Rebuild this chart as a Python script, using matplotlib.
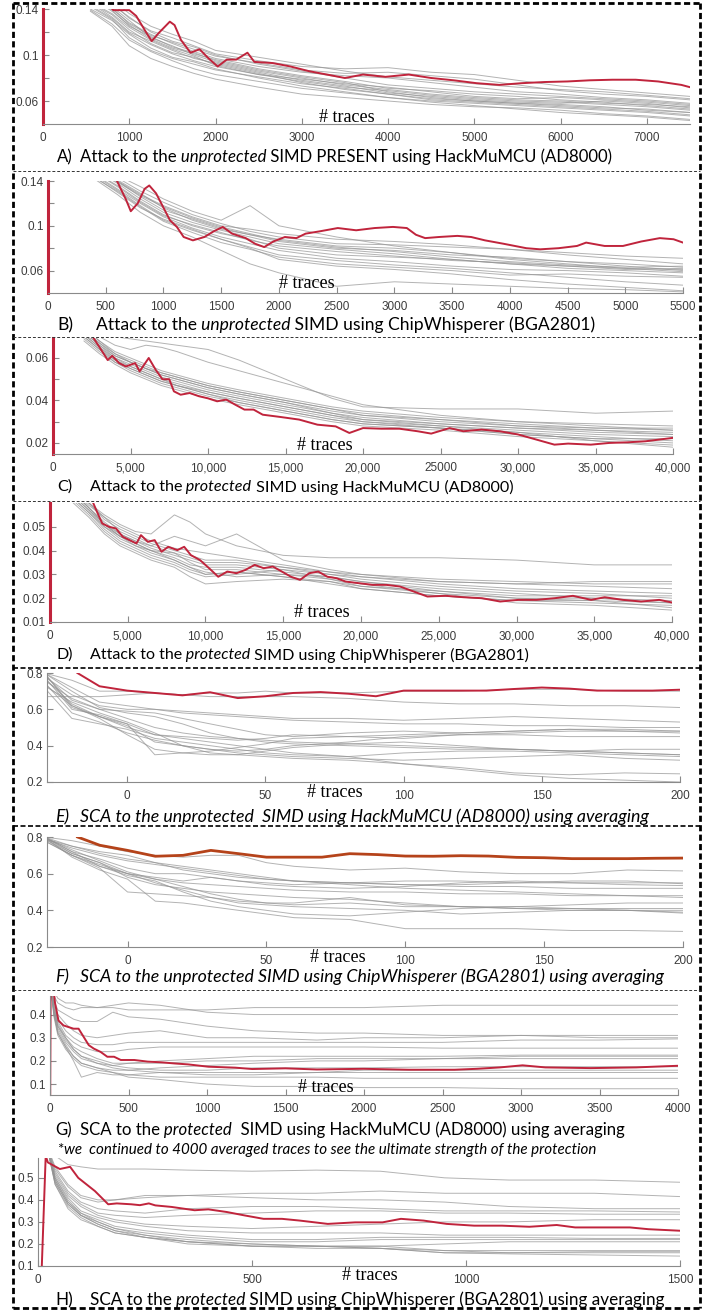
import matplotlib
matplotlib.use("Agg")
import matplotlib.pyplot as plt
from matplotlib.lines import Line2D

plt.rcParams["font.family"] = "Liberation Sans"

# ---------------- data ----------------
# A) unprotected SIMD PRESENT, HackMuMCU
x_a = [550, 800, 1000, 1250, 1500, 1750, 2000, 2500, 3000, 3500, 4000, 4500, 5000, 5500, 6000, 6500, 7000, 7500]
gray_a = [
    [0.150, 0.140, 0.128, 0.118, 0.110, 0.103, 0.097, 0.090, 0.085, 0.082, 0.080, 0.076, 0.072, 0.068, 0.066, 0.063, 0.061, 0.058],
    [0.145, 0.135, 0.122, 0.110, 0.102, 0.098, 0.092, 0.084, 0.076, 0.070, 0.066, 0.062, 0.060, 0.058, 0.057, 0.055, 0.052, 0.050],
    [0.150, 0.145, 0.132, 0.121, 0.115, 0.108, 0.101, 0.095, 0.090, 0.088, 0.089, 0.085, 0.083, 0.078, 0.073, 0.070, 0.067, 0.064],
    [0.140, 0.130, 0.118, 0.106, 0.098, 0.094, 0.088, 0.080, 0.073, 0.068, 0.063, 0.060, 0.058, 0.056, 0.054, 0.052, 0.050, 0.047],
    [0.150, 0.142, 0.130, 0.115, 0.108, 0.100, 0.094, 0.086, 0.080, 0.074, 0.070, 0.066, 0.063, 0.061, 0.060, 0.058, 0.057, 0.055],
    [0.138, 0.125, 0.108, 0.097, 0.090, 0.084, 0.079, 0.072, 0.066, 0.063, 0.060, 0.057, 0.055, 0.054, 0.052, 0.049, 0.047, 0.044],
    [0.150, 0.148, 0.136, 0.125, 0.118, 0.112, 0.104, 0.098, 0.092, 0.086, 0.081, 0.078, 0.075, 0.072, 0.070, 0.068, 0.065, 0.062],
    [0.145, 0.133, 0.120, 0.112, 0.104, 0.097, 0.093, 0.085, 0.078, 0.073, 0.067, 0.064, 0.061, 0.059, 0.058, 0.060, 0.058, 0.054],
    [0.150, 0.138, 0.126, 0.114, 0.106, 0.101, 0.096, 0.088, 0.082, 0.077, 0.071, 0.069, 0.066, 0.064, 0.061, 0.059, 0.056, 0.053],
    [0.142, 0.131, 0.115, 0.104, 0.097, 0.092, 0.087, 0.081, 0.075, 0.071, 0.066, 0.061, 0.059, 0.057, 0.055, 0.053, 0.051, 0.048],
    [0.150, 0.141, 0.127, 0.117, 0.111, 0.105, 0.099, 0.093, 0.087, 0.084, 0.085, 0.082, 0.079, 0.074, 0.069, 0.066, 0.064, 0.061],
    [0.146, 0.136, 0.124, 0.113, 0.105, 0.099, 0.091, 0.083, 0.077, 0.072, 0.069, 0.065, 0.062, 0.060, 0.059, 0.057, 0.055, 0.052],
    [0.139, 0.127, 0.113, 0.103, 0.095, 0.088, 0.083, 0.077, 0.071, 0.067, 0.063, 0.059, 0.056, 0.053, 0.050, 0.048, 0.046, 0.043],
    [0.150, 0.144, 0.133, 0.120, 0.112, 0.107, 0.100, 0.092, 0.086, 0.080, 0.074, 0.071, 0.068, 0.066, 0.064, 0.062, 0.060, 0.057],
    [0.143, 0.132, 0.119, 0.109, 0.101, 0.095, 0.090, 0.083, 0.079, 0.075, 0.072, 0.068, 0.064, 0.062, 0.063, 0.061, 0.059, 0.056],
    [0.150, 0.139, 0.125, 0.116, 0.107, 0.102, 0.095, 0.087, 0.081, 0.076, 0.068, 0.063, 0.060, 0.058, 0.056, 0.054, 0.053, 0.050],
]
red_a_x = [780, 815, 1000, 1080, 1185, 1260, 1340, 1470, 1525, 1600, 1710, 1815, 1920, 2025, 2130, 2240, 2370, 2450, 2660, 2870,
           3080, 3290, 3500, 3710, 3970, 4240, 4500, 4760, 5025, 5290, 5550, 5815, 6080, 6340, 6600, 6870, 7130, 7400, 7500]
red_a_y = [0.142, 0.139, 0.139, 0.134, 0.121, 0.112, 0.119, 0.129, 0.126, 0.113, 0.102, 0.105, 0.097, 0.090, 0.096, 0.096, 0.102, 0.094, 0.093, 0.090,
           0.086, 0.083, 0.080, 0.083, 0.081, 0.083, 0.080, 0.078, 0.0755, 0.074, 0.0755, 0.0765, 0.077, 0.078, 0.0785, 0.0785, 0.077, 0.074, 0.072]

# B) unprotected SIMD, ChipWhisperer
x_b = [400, 600, 800, 1000, 1250, 1500, 1750, 2000, 2500, 3000, 3500, 4000, 4500, 5000, 5500]
gray_b = [
    [0.150, 0.140, 0.128, 0.118, 0.108, 0.100, 0.097, 0.093, 0.088, 0.086, 0.083, 0.079, 0.074, 0.070, 0.066],
    [0.145, 0.132, 0.118, 0.105, 0.096, 0.088, 0.080, 0.070, 0.064, 0.061, 0.057, 0.052, 0.048, 0.045, 0.042],
    [0.150, 0.145, 0.135, 0.124, 0.113, 0.105, 0.118, 0.100, 0.090, 0.082, 0.076, 0.071, 0.068, 0.064, 0.060],
    [0.142, 0.128, 0.112, 0.100, 0.090, 0.078, 0.066, 0.058, 0.046, 0.050, 0.048, 0.046, 0.044, 0.043, 0.041],
    [0.150, 0.140, 0.126, 0.114, 0.106, 0.098, 0.092, 0.086, 0.080, 0.078, 0.074, 0.072, 0.068, 0.066, 0.063],
    [0.148, 0.136, 0.122, 0.110, 0.100, 0.093, 0.088, 0.080, 0.074, 0.072, 0.070, 0.066, 0.062, 0.060, 0.058],
    [0.150, 0.143, 0.131, 0.121, 0.110, 0.102, 0.095, 0.090, 0.084, 0.083, 0.081, 0.079, 0.076, 0.073, 0.071],
    [0.146, 0.133, 0.120, 0.108, 0.098, 0.090, 0.084, 0.078, 0.071, 0.068, 0.064, 0.061, 0.060, 0.058, 0.055],
    [0.150, 0.138, 0.124, 0.112, 0.103, 0.096, 0.090, 0.084, 0.079, 0.075, 0.070, 0.066, 0.064, 0.061, 0.062],
    [0.144, 0.130, 0.116, 0.106, 0.097, 0.088, 0.081, 0.074, 0.069, 0.065, 0.062, 0.058, 0.054, 0.050, 0.047],
    [0.150, 0.141, 0.129, 0.116, 0.105, 0.097, 0.092, 0.088, 0.082, 0.080, 0.076, 0.070, 0.066, 0.062, 0.059],
    [0.148, 0.135, 0.121, 0.109, 0.101, 0.094, 0.087, 0.082, 0.077, 0.073, 0.069, 0.067, 0.064, 0.062, 0.061],
    [0.150, 0.139, 0.127, 0.117, 0.107, 0.099, 0.093, 0.087, 0.081, 0.077, 0.072, 0.068, 0.065, 0.063, 0.064],
    [0.143, 0.131, 0.117, 0.104, 0.094, 0.085, 0.079, 0.072, 0.066, 0.063, 0.060, 0.056, 0.057, 0.055, 0.054],
]
red_b_x = [560, 598, 677, 717, 777, 837, 877, 936, 996, 1056, 1116, 1175, 1255, 1355, 1434, 1514, 1594, 1713, 1793, 1873,
           1952, 2052, 2151, 2231, 2350, 2510, 2669, 2829, 2988, 3108, 3187, 3267, 3386, 3546, 3665, 3785, 3944, 4143, 4263, 4422,
           4582, 4661, 4821, 4980, 5139, 5299, 5418, 5500]
red_b_y = [0.145, 0.140, 0.123, 0.113, 0.120, 0.133, 0.136, 0.129, 0.117, 0.105, 0.099, 0.090, 0.087, 0.090, 0.095, 0.099, 0.093, 0.089, 0.084, 0.081,
           0.086, 0.090, 0.089, 0.093, 0.095, 0.098, 0.096, 0.098, 0.099, 0.098, 0.092, 0.089, 0.090, 0.091, 0.090, 0.087, 0.084, 0.080, 0.079, 0.080,
           0.082, 0.085, 0.082, 0.082, 0.086, 0.089, 0.088, 0.085]

# C) protected SIMD, HackMuMCU
x_c = [2000, 3000, 4000, 5000, 6000, 7000, 8000, 10000, 12000, 15000, 18000, 20000, 25000, 30000, 35000, 40000]
gray_c = [
    [0.075, 0.072, 0.070, 0.069, 0.068, 0.067, 0.066, 0.064, 0.059, 0.050, 0.041, 0.037, 0.036, 0.036, 0.034, 0.035],
    [0.075, 0.070, 0.066, 0.064, 0.066, 0.065, 0.063, 0.058, 0.054, 0.048, 0.042, 0.038, 0.033, 0.030, 0.029, 0.028],
    [0.072, 0.066, 0.061, 0.058, 0.055, 0.052, 0.050, 0.046, 0.043, 0.039, 0.035, 0.033, 0.030, 0.028, 0.026, 0.025],
    [0.070, 0.064, 0.059, 0.055, 0.052, 0.049, 0.047, 0.043, 0.040, 0.036, 0.032, 0.030, 0.028, 0.026, 0.024, 0.023],
    [0.073, 0.067, 0.062, 0.059, 0.056, 0.053, 0.051, 0.047, 0.044, 0.040, 0.036, 0.034, 0.031, 0.029, 0.027, 0.027],
    [0.069, 0.063, 0.058, 0.054, 0.051, 0.048, 0.046, 0.042, 0.039, 0.035, 0.031, 0.029, 0.027, 0.024, 0.022, 0.020],
    [0.074, 0.068, 0.063, 0.060, 0.057, 0.054, 0.052, 0.048, 0.045, 0.041, 0.037, 0.035, 0.032, 0.030, 0.028, 0.026],
    [0.071, 0.065, 0.060, 0.056, 0.053, 0.050, 0.048, 0.044, 0.041, 0.037, 0.033, 0.031, 0.028, 0.025, 0.023, 0.021],
    [0.072, 0.066, 0.060, 0.057, 0.054, 0.051, 0.049, 0.045, 0.042, 0.038, 0.034, 0.032, 0.029, 0.027, 0.025, 0.024],
    [0.070, 0.064, 0.058, 0.055, 0.052, 0.049, 0.047, 0.044, 0.041, 0.037, 0.033, 0.030, 0.027, 0.025, 0.021, 0.019],
    [0.073, 0.067, 0.061, 0.058, 0.055, 0.052, 0.050, 0.046, 0.043, 0.039, 0.034, 0.031, 0.029, 0.027, 0.026, 0.024],
    [0.068, 0.062, 0.057, 0.053, 0.050, 0.047, 0.045, 0.041, 0.038, 0.034, 0.030, 0.028, 0.026, 0.023, 0.021, 0.018],
    [0.074, 0.068, 0.062, 0.058, 0.055, 0.053, 0.051, 0.047, 0.044, 0.040, 0.036, 0.033, 0.031, 0.028, 0.027, 0.026],
    [0.071, 0.065, 0.059, 0.056, 0.053, 0.050, 0.047, 0.043, 0.039, 0.035, 0.031, 0.029, 0.027, 0.024, 0.022, 0.022],
]
red_c_x = [2400, 2650, 3235, 3530, 3820, 4265, 4700, 5300, 5590, 6176, 6620, 7060, 7500, 7800, 8235, 8820, 9410, 10000, 10590, 11176,
           11760, 12350, 12940, 13530, 14700, 15880, 17060, 18235, 19120, 20000, 21180, 22350, 23530, 24400, 25590, 26470, 27650, 28820, 30000, 31180,
           32350, 33235, 34700, 35880, 37060, 38235, 39120, 40000]
red_c_y = [0.072, 0.069, 0.0624, 0.059, 0.061, 0.0576, 0.056, 0.0576, 0.0537, 0.060, 0.0545, 0.050, 0.050, 0.0443, 0.0427, 0.0435, 0.042, 0.041, 0.0396, 0.0404,
           0.038, 0.0357, 0.0357, 0.0333, 0.0322, 0.031, 0.0286, 0.0278, 0.0247, 0.027, 0.0267, 0.0267, 0.0255, 0.0244, 0.027, 0.0255, 0.0263, 0.0255, 0.024, 0.0216,
           0.0192, 0.0197, 0.0192, 0.020, 0.0203, 0.0208, 0.0216, 0.0224]

# D) protected SIMD, ChipWhisperer
x_d = [1500, 2500, 3500, 4500, 5500, 6500, 8000, 9000, 10000, 12000, 15000, 18000, 20000, 25000, 30000, 35000, 40000]
gray_d = [
    [0.065, 0.060, 0.055, 0.051, 0.048, 0.047, 0.055, 0.052, 0.047, 0.042, 0.038, 0.037, 0.037, 0.037, 0.036, 0.034, 0.034],
    [0.065, 0.058, 0.052, 0.047, 0.044, 0.042, 0.046, 0.044, 0.042, 0.047, 0.036, 0.032, 0.030, 0.027, 0.026, 0.027, 0.027],
    [0.062, 0.056, 0.049, 0.044, 0.041, 0.038, 0.035, 0.032, 0.030, 0.031, 0.029, 0.027, 0.024, 0.021, 0.019, 0.018, 0.017],
    [0.064, 0.058, 0.051, 0.046, 0.043, 0.040, 0.037, 0.034, 0.033, 0.033, 0.031, 0.029, 0.027, 0.024, 0.022, 0.020, 0.019],
    [0.060, 0.054, 0.047, 0.042, 0.039, 0.036, 0.033, 0.029, 0.026, 0.027, 0.028, 0.027, 0.025, 0.022, 0.020, 0.019, 0.016],
    [0.066, 0.060, 0.053, 0.049, 0.046, 0.043, 0.040, 0.038, 0.036, 0.036, 0.033, 0.031, 0.029, 0.027, 0.026, 0.025, 0.024],
    [0.063, 0.057, 0.050, 0.045, 0.042, 0.039, 0.036, 0.033, 0.031, 0.029, 0.030, 0.029, 0.027, 0.023, 0.021, 0.021, 0.021],
    [0.065, 0.059, 0.054, 0.050, 0.047, 0.044, 0.041, 0.040, 0.039, 0.037, 0.034, 0.031, 0.030, 0.028, 0.027, 0.026, 0.026],
    [0.061, 0.055, 0.048, 0.043, 0.040, 0.037, 0.034, 0.031, 0.029, 0.030, 0.032, 0.030, 0.028, 0.025, 0.023, 0.022, 0.020],
    [0.064, 0.058, 0.051, 0.047, 0.044, 0.041, 0.038, 0.036, 0.034, 0.034, 0.032, 0.028, 0.026, 0.022, 0.018, 0.017, 0.015],
    [0.062, 0.056, 0.050, 0.046, 0.042, 0.040, 0.039, 0.037, 0.035, 0.035, 0.033, 0.030, 0.029, 0.026, 0.024, 0.023, 0.022],
    [0.066, 0.060, 0.054, 0.048, 0.045, 0.042, 0.039, 0.035, 0.032, 0.032, 0.030, 0.028, 0.025, 0.023, 0.020, 0.020, 0.018],
    [0.063, 0.057, 0.051, 0.046, 0.043, 0.040, 0.036, 0.033, 0.030, 0.031, 0.029, 0.026, 0.024, 0.021, 0.019, 0.019, 0.018],
]
red_d_x = [2500, 2780, 3070, 3360, 3800, 4240, 4680, 5120, 5560, 5850, 6290, 6730, 7170, 7600, 8190, 8630, 9060, 9650, 10230, 10820,
           11400, 11990, 12570, 13160, 13740, 14330, 14910, 15500, 16080, 16670, 17250, 17840, 18420, 19010, 19880, 20760, 21640, 22510, 23390, 24270,
           25440, 26610, 27780, 28950, 30120, 31290, 32460, 33630, 34800, 35670, 36840, 38010, 39180, 40000]
red_d_y = [0.063, 0.060, 0.0556, 0.0514, 0.050, 0.0493, 0.0458, 0.0444, 0.043, 0.0465, 0.0437, 0.0444, 0.0395, 0.0416, 0.0402, 0.0416, 0.0381, 0.036, 0.0326, 0.029,
           0.0312, 0.0305, 0.0319, 0.034, 0.0326, 0.0333, 0.0312, 0.029, 0.0277, 0.0305, 0.0312, 0.029, 0.0284, 0.027, 0.0263, 0.0256, 0.0256, 0.0249, 0.0228, 0.0207,
           0.021, 0.0204, 0.020, 0.0186, 0.0193, 0.0193, 0.020, 0.021, 0.0193, 0.0204, 0.0193, 0.0186, 0.0193, 0.0182]

# E) / F) unprotected SIMD with averaging
x_ef = [-30, -20, -10, 0, 10, 20, 30, 40, 50, 60, 80, 100, 120, 140, 160, 180, 200]
gray_e = [
    [0.80, 0.76, 0.70, 0.70, 0.69, 0.68, 0.67, 0.67, 0.67, 0.67, 0.66, 0.64, 0.63, 0.63, 0.62, 0.62, 0.61],
    [0.67, 0.67, 0.67, 0.68, 0.69, 0.68, 0.69, 0.69, 0.70, 0.69, 0.69, 0.70, 0.70, 0.71, 0.71, 0.70, 0.70],
    [0.78, 0.68, 0.62, 0.60, 0.60, 0.59, 0.58, 0.57, 0.56, 0.55, 0.55, 0.54, 0.55, 0.56, 0.55, 0.54, 0.53],
    [0.80, 0.72, 0.64, 0.62, 0.60, 0.58, 0.57, 0.56, 0.55, 0.54, 0.53, 0.52, 0.52, 0.51, 0.51, 0.50, 0.50],
    [0.76, 0.66, 0.60, 0.55, 0.50, 0.47, 0.45, 0.44, 0.43, 0.42, 0.41, 0.40, 0.39, 0.38, 0.37, 0.36, 0.35],
    [0.80, 0.62, 0.56, 0.52, 0.46, 0.44, 0.42, 0.40, 0.38, 0.36, 0.34, 0.30, 0.28, 0.25, 0.24, 0.25, 0.245],
    [0.73, 0.64, 0.58, 0.53, 0.47, 0.40, 0.36, 0.35, 0.34, 0.33, 0.32, 0.30, 0.27, 0.24, 0.22, 0.21, 0.20],
    [0.78, 0.60, 0.57, 0.52, 0.35, 0.36, 0.37, 0.39, 0.41, 0.44, 0.45, 0.46, 0.47, 0.48, 0.49, 0.49, 0.48],
    [0.80, 0.61, 0.56, 0.50, 0.46, 0.45, 0.44, 0.43, 0.44, 0.46, 0.45, 0.44, 0.46, 0.47, 0.48, 0.48, 0.48],
    [0.75, 0.58, 0.53, 0.47, 0.43, 0.40, 0.38, 0.36, 0.35, 0.34, 0.33, 0.32, 0.33, 0.34, 0.35, 0.33, 0.32],
    [0.80, 0.70, 0.61, 0.58, 0.56, 0.52, 0.47, 0.44, 0.42, 0.41, 0.40, 0.39, 0.38, 0.38, 0.37, 0.38, 0.38],
    [0.72, 0.55, 0.52, 0.49, 0.44, 0.42, 0.40, 0.38, 0.36, 0.35, 0.34, 0.36, 0.37, 0.37, 0.36, 0.35, 0.34],
    [0.79, 0.65, 0.60, 0.59, 0.58, 0.55, 0.52, 0.49, 0.46, 0.45, 0.47, 0.48, 0.47, 0.48, 0.49, 0.48, 0.47],
    [0.77, 0.63, 0.56, 0.51, 0.42, 0.40, 0.38, 0.37, 0.38, 0.40, 0.42, 0.45, 0.46, 0.46, 0.45, 0.45, 0.45],
    [0.74, 0.62, 0.55, 0.46, 0.38, 0.36, 0.35, 0.35, 0.37, 0.39, 0.41, 0.42, 0.40, 0.38, 0.37, 0.36, 0.35],
]
red_ef_x = [-18, -10, 0, 10, 20, 30, 40, 50, 60, 70, 80, 90, 100, 110, 120, 130, 140, 150, 160, 170, 180, 190, 200]
red_e_y = [0.80, 0.727, 0.703, 0.69, 0.677, 0.694, 0.662, 0.672, 0.69, 0.695, 0.686, 0.672, 0.703, 0.703, 0.703, 0.703, 0.712, 0.72, 0.714, 0.703, 0.703, 0.703, 0.708]
gray_f = [
    [0.80, 0.78, 0.75, 0.72, 0.70, 0.69, 0.70, 0.70, 0.66, 0.64, 0.62, 0.63, 0.61, 0.60, 0.60, 0.62, 0.615],
    [0.80, 0.72, 0.68, 0.63, 0.60, 0.60, 0.58, 0.56, 0.55, 0.54, 0.55, 0.56, 0.56, 0.55, 0.55, 0.55, 0.55],
    [0.79, 0.74, 0.70, 0.67, 0.65, 0.63, 0.61, 0.59, 0.57, 0.56, 0.55, 0.54, 0.54, 0.55, 0.56, 0.56, 0.545],
    [0.78, 0.70, 0.64, 0.60, 0.58, 0.56, 0.58, 0.56, 0.54, 0.53, 0.52, 0.53, 0.55, 0.56, 0.55, 0.54, 0.535],
    [0.80, 0.71, 0.66, 0.58, 0.54, 0.52, 0.50, 0.49, 0.48, 0.47, 0.46, 0.44, 0.42, 0.41, 0.41, 0.41, 0.41],
    [0.80, 0.75, 0.72, 0.70, 0.66, 0.64, 0.62, 0.60, 0.58, 0.56, 0.54, 0.52, 0.51, 0.50, 0.49, 0.48, 0.48],
    [0.79, 0.70, 0.63, 0.50, 0.49, 0.48, 0.47, 0.45, 0.44, 0.44, 0.47, 0.43, 0.42, 0.41, 0.40, 0.40, 0.39],
    [0.80, 0.69, 0.62, 0.57, 0.45, 0.44, 0.42, 0.40, 0.38, 0.36, 0.35, 0.30, 0.30, 0.30, 0.29, 0.29, 0.285],
    [0.78, 0.70, 0.65, 0.60, 0.57, 0.53, 0.49, 0.46, 0.44, 0.43, 0.44, 0.42, 0.42, 0.42, 0.43, 0.44, 0.44],
    [0.80, 0.73, 0.67, 0.61, 0.57, 0.55, 0.54, 0.53, 0.52, 0.51, 0.50, 0.50, 0.49, 0.49, 0.48, 0.48, 0.47],
    [0.79, 0.71, 0.66, 0.60, 0.55, 0.51, 0.47, 0.44, 0.43, 0.42, 0.41, 0.40, 0.38, 0.39, 0.40, 0.40, 0.40],
    [0.80, 0.72, 0.64, 0.59, 0.56, 0.50, 0.45, 0.42, 0.40, 0.38, 0.37, 0.39, 0.41, 0.42, 0.41, 0.40, 0.385],
    [0.79, 0.75, 0.71, 0.68, 0.66, 0.62, 0.60, 0.58, 0.57, 0.56, 0.55, 0.54, 0.53, 0.53, 0.52, 0.52, 0.52],
]
red_f_y = [0.80, 0.755, 0.727, 0.695, 0.70, 0.727, 0.709, 0.69, 0.69, 0.69, 0.709, 0.704, 0.696, 0.695, 0.698, 0.696, 0.689, 0.687, 0.682, 0.682, 0.682, 0.684, 0.685]

# G) protected SIMD, HackMuMCU, averaging
x_g = [0, 25, 50, 100, 150, 200, 300, 400, 500, 700, 1000, 1300, 1700, 2000, 2500, 3000, 3500, 4000]
gray_g = [
    [0.55, 0.50, 0.47, 0.45, 0.45, 0.44, 0.43, 0.43, 0.42, 0.42, 0.42, 0.43, 0.43, 0.43, 0.44, 0.44, 0.44, 0.44],
    [0.55, 0.48, 0.45, 0.43, 0.42, 0.43, 0.43, 0.44, 0.45, 0.44, 0.41, 0.40, 0.40, 0.40, 0.40, 0.40, 0.40, 0.40],
    [0.55, 0.46, 0.42, 0.40, 0.38, 0.37, 0.37, 0.41, 0.39, 0.38, 0.35, 0.33, 0.32, 0.32, 0.31, 0.31, 0.31, 0.31],
    [0.55, 0.45, 0.40, 0.36, 0.33, 0.31, 0.30, 0.31, 0.32, 0.33, 0.30, 0.30, 0.29, 0.30, 0.30, 0.31, 0.30, 0.30],
    [0.55, 0.44, 0.38, 0.33, 0.30, 0.28, 0.27, 0.27, 0.28, 0.28, 0.28, 0.28, 0.28, 0.28, 0.28, 0.29, 0.29, 0.295],
    [0.55, 0.43, 0.37, 0.31, 0.28, 0.26, 0.24, 0.24, 0.25, 0.26, 0.26, 0.26, 0.26, 0.26, 0.255, 0.255, 0.255, 0.255],
    [0.55, 0.42, 0.35, 0.30, 0.26, 0.24, 0.21, 0.19, 0.19, 0.20, 0.21, 0.22, 0.22, 0.22, 0.22, 0.225, 0.225, 0.225],
    [0.55, 0.41, 0.34, 0.28, 0.24, 0.21, 0.19, 0.18, 0.19, 0.19, 0.20, 0.20, 0.21, 0.21, 0.21, 0.21, 0.21, 0.21],
    [0.55, 0.40, 0.33, 0.27, 0.22, 0.19, 0.17, 0.16, 0.16, 0.15, 0.15, 0.15, 0.15, 0.16, 0.16, 0.16, 0.16, 0.16],
    [0.55, 0.41, 0.32, 0.26, 0.20, 0.13, 0.15, 0.14, 0.14, 0.15, 0.14, 0.14, 0.15, 0.15, 0.15, 0.15, 0.15, 0.15],
    [0.55, 0.39, 0.31, 0.25, 0.21, 0.18, 0.16, 0.15, 0.14, 0.13, 0.13, 0.13, 0.13, 0.125, 0.125, 0.125, 0.125, 0.125],
    [0.55, 0.40, 0.32, 0.26, 0.22, 0.19, 0.17, 0.15, 0.13, 0.12, 0.10, 0.09, 0.09, 0.085, 0.085, 0.08, 0.08, 0.08],
    [0.55, 0.43, 0.36, 0.30, 0.25, 0.22, 0.20, 0.18, 0.17, 0.16, 0.16, 0.17, 0.17, 0.17, 0.175, 0.175, 0.175, 0.175],
    [0.55, 0.42, 0.35, 0.29, 0.25, 0.22, 0.19, 0.17, 0.16, 0.17, 0.18, 0.19, 0.20, 0.20, 0.21, 0.22, 0.22, 0.22],
]
red_g_x = [1, 5, 32, 54, 86, 118, 150, 182, 215, 247, 279, 322, 365, 408, 451, 537, 622, 708, 794, 880,
           1009, 1180, 1288, 1500, 1700, 1997, 2287, 2576, 2720, 2865, 3010, 3155, 3444, 3734, 3878, 4000]
red_g_y = [0.0, 0.62, 0.45, 0.374, 0.353, 0.346, 0.339, 0.339, 0.303, 0.268, 0.253, 0.239, 0.218, 0.218, 0.204, 0.204, 0.197, 0.194, 0.189, 0.185,
           0.175, 0.171, 0.165, 0.168, 0.163, 0.166, 0.162, 0.162, 0.166, 0.172, 0.181, 0.172, 0.169, 0.172, 0.176, 0.179]

# H) protected SIMD, ChipWhisperer, averaging
x_h = [20, 40, 70, 100, 140, 180, 250, 350, 500, 650, 800, 950, 1100, 1300, 1500]
gray_h = [
    [0.65, 0.60, 0.56, 0.55, 0.54, 0.54, 0.54, 0.535, 0.53, 0.535, 0.53, 0.50, 0.49, 0.49, 0.48],
    [0.65, 0.55, 0.47, 0.42, 0.40, 0.40, 0.41, 0.42, 0.43, 0.43, 0.44, 0.43, 0.43, 0.43, 0.415],
    [0.65, 0.54, 0.46, 0.41, 0.39, 0.40, 0.42, 0.42, 0.41, 0.40, 0.40, 0.39, 0.37, 0.36, 0.36],
    [0.65, 0.53, 0.44, 0.39, 0.36, 0.35, 0.34, 0.36, 0.37, 0.37, 0.36, 0.35, 0.35, 0.35, 0.345],
    [0.65, 0.52, 0.43, 0.38, 0.34, 0.33, 0.32, 0.33, 0.34, 0.35, 0.35, 0.34, 0.34, 0.335, 0.335],
    [0.65, 0.51, 0.42, 0.37, 0.33, 0.31, 0.29, 0.28, 0.27, 0.28, 0.29, 0.30, 0.30, 0.31, 0.31],
    [0.65, 0.50, 0.41, 0.35, 0.32, 0.30, 0.28, 0.26, 0.25, 0.25, 0.25, 0.24, 0.24, 0.24, 0.24],
    [0.65, 0.50, 0.40, 0.34, 0.31, 0.28, 0.26, 0.24, 0.22, 0.22, 0.23, 0.23, 0.23, 0.225, 0.225],
    [0.65, 0.49, 0.39, 0.34, 0.30, 0.27, 0.25, 0.23, 0.21, 0.21, 0.22, 0.22, 0.22, 0.22, 0.22],
    [0.65, 0.48, 0.38, 0.33, 0.29, 0.26, 0.24, 0.22, 0.20, 0.19, 0.19, 0.20, 0.21, 0.21, 0.21],
    [0.65, 0.47, 0.37, 0.32, 0.28, 0.25, 0.23, 0.21, 0.19, 0.19, 0.19, 0.17, 0.17, 0.17, 0.17],
    [0.65, 0.48, 0.38, 0.33, 0.30, 0.27, 0.24, 0.21, 0.19, 0.19, 0.18, 0.16, 0.16, 0.165, 0.165],
    [0.65, 0.49, 0.39, 0.33, 0.29, 0.26, 0.23, 0.20, 0.19, 0.18, 0.18, 0.17, 0.16, 0.16, 0.16],
    [0.65, 0.47, 0.36, 0.31, 0.28, 0.25, 0.23, 0.21, 0.20, 0.19, 0.18, 0.16, 0.155, 0.15, 0.145],
]
red_h_x = [8, 18, 23, 51, 75, 94, 133, 164, 184, 218, 238, 259, 274, 312, 366, 398, 441, 484, 527, 570,
           612, 677, 741, 805, 848, 901, 955, 1019, 1084, 1148, 1212, 1255, 1319, 1383, 1426, 1500]
red_h_y = [0.05, 0.6, 0.57, 0.54, 0.55, 0.50, 0.44, 0.38, 0.384, 0.38, 0.376, 0.384, 0.375, 0.368, 0.353, 0.357, 0.345, 0.329, 0.314, 0.314,
           0.306, 0.291, 0.298, 0.298, 0.314, 0.306, 0.291, 0.283, 0.283, 0.278, 0.286, 0.275, 0.275, 0.275, 0.267, 0.26]

# ---------------- figure ----------------
W, H = 708, 1312
fig = plt.figure(figsize=(W / 100, H / 100), dpi=100)
GRAY = "#939393"
RED = "#c0243c"
AXC = "#8a8a8a"
CAP_FONT = "Lato"


def fx(x):
    return x / W


def fy(y):
    return 1 - y / H


def panel(l, t, r, b, xlim, ylim, xticks, xlabels, yticks, ylabels, yminor=()):
    ax = fig.add_axes([fx(l), fy(b), (r - l) / W, (b - t) / H])
    ax.set_xlim(xlim)
    ax.set_ylim(ylim)
    ax.set_xticks(xticks)
    ax.set_xticklabels(xlabels)
    ax.set_yticks(yticks)
    ax.set_yticklabels(ylabels)
    ax.set_yticks(list(yminor), minor=True)
    for s in ("top", "right"):
        ax.spines[s].set_visible(False)
    for s in ("left", "bottom"):
        ax.spines[s].set_color(AXC)
        ax.spines[s].set_linewidth(0.8)
    ax.tick_params(which="both", direction="in", length=4, width=0.8, color=AXC,
                   labelsize=8.5, labelcolor="#3c3c3c")
    ax.tick_params(axis="x", pad=6)
    ax.tick_params(axis="y", pad=3)
    ax.patch.set_visible(False)
    return ax


def traces(ax, x, rows, red_x, red_y, red_color=RED, red_lw=1.4):
    for ys in rows:
        ax.plot(x, ys, color=GRAY, lw=0.7, alpha=0.7)
    ax.plot(red_x, red_y, color=red_color, lw=red_lw)


def red_axis(ax):
    ax.spines["left"].set_color(RED)
    ax.spines["left"].set_linewidth(2.2)


def label_traces(x, y):
    fig.text(fx(x), fy(y), "# traces", family="Liberation Serif", fontsize=13,
             ha="center", va="center")


def caption(ax, lx, tx, y, label, parts, size, label_style="normal"):
    fig.text(fx(lx), fy(y), label, family=CAP_FONT, fontsize=size, style=label_style,
             ha="left", va="center")
    t = fig.text(fx(tx), fy(y), parts[0][0], family=CAP_FONT, fontsize=size,
                 style=parts[0][1], ha="left", va="center")
    for s, st in parts[1:]:
        t = ax.annotate(s, xy=(1, 0.5), xycoords=t, family=CAP_FONT, fontsize=size,
                        style=st, ha="left", va="center", annotation_clip=False)


# A
ax_a = panel(43, 9, 690, 124, (0, 7500), (0.04, 0.14), range(0, 7001, 1000),
             [str(v) for v in range(0, 7001, 1000)], [0.06, 0.1, 0.14], ["0.06", "0.1", "0.14"], [0.08, 0.12])
traces(ax_a, x_a, gray_a, red_a_x, red_a_y)
red_axis(ax_a)
label_traces(347, 117)

# B
ax_b = panel(48, 181, 683, 293, (0, 5500), (0.04, 0.14), range(0, 5501, 500),
             [str(v) for v in range(0, 5501, 500)], [0.06, 0.1, 0.14], ["0.06", "0.1", "0.14"], [0.08, 0.12])
traces(ax_b, x_b, gray_b, red_b_x, red_b_y)
red_axis(ax_b)
label_traces(307, 283)

# C
c_labels = ["0", "5,000", "10,000", "15,000", "20,000", "25000", "30,000", "35,000", "40,000"]
ax_c = panel(53, 338, 673, 454, (0, 40000), (0.0148, 0.0694), range(0, 40001, 5000), c_labels,
             [0.02, 0.04, 0.06], ["0.02", "0.04", "0.06"], [0.03, 0.05])
traces(ax_c, x_c, gray_c, red_c_x, red_c_y)
red_axis(ax_c)
label_traces(325, 446)

# D
d_labels = ["0", "5,000", "10,000", "15,000", "20,000", "25,000", "30,000", "35,000", "40,000"]
ax_d = panel(50, 503, 672, 622, (0, 40000), (0.01, 0.06), range(0, 40001, 5000), d_labels,
             [0.01, 0.02, 0.03, 0.04, 0.05], ["0.01", "0.02", "0.03", "0.04", "0.05"])
traces(ax_d, x_d, gray_d, red_d_x, red_d_y)
red_axis(ax_d)
label_traces(322, 612)

# E
ef_ticks = [0, 50, 100, 150, 200]
ax_e = panel(47, 673, 680, 782, (-29, 200), (0.2, 0.8), ef_ticks, [str(v) for v in ef_ticks],
             [0.2, 0.4, 0.6, 0.8], ["0.2", "0.4", "0.6", "0.8"])
traces(ax_e, x_ef, gray_e, red_ef_x, red_e_y)
label_traces(335, 793)

# F
ax_f = panel(47, 837, 683, 947, (-29, 200), (0.2, 0.8), ef_ticks, [str(v) for v in ef_ticks],
             [0.2, 0.4, 0.6, 0.8], ["0.2", "0.4", "0.6", "0.8"])
traces(ax_f, x_ef, gray_f, red_ef_x, red_f_y, red_color="#b5431a", red_lw=2.0)
label_traces(338, 957)

# G
ax_g = panel(50, 996, 678, 1095, (0, 4000), (0.053, 0.48), range(0, 4001, 500),
             [str(v) for v in range(0, 4001, 500)], [0.1, 0.2, 0.3, 0.4], ["0.1", "0.2", "0.3", "0.4"])
traces(ax_g, x_g, gray_g, red_g_x, red_g_y)
label_traces(326, 1088)

# H
ax_h = panel(38, 1158, 680, 1266, (0, 1500), (0.1, 0.59), [0, 500, 1000, 1500], ["0", "500", "1000", "1500"],
             [0.1, 0.2, 0.3, 0.4, 0.5], ["0.1", "0.2", "0.3", "0.4", "0.5"])
traces(ax_h, x_h, gray_h, red_h_x, red_h_y)
label_traces(370, 1275)

# captions
caption(ax_h, 57, 80, 157, "A)", [("Attack to the", "normal"), (" unprotected", "italic"),
                                  (" SIMD PRESENT using HackMuMCU (AD8000)", "normal")], 12.1)
caption(ax_h, 57, 96, 325, "B)", [("Attack to the", "normal"), (" unprotected", "italic"),
                                  (" SIMD using ChipWhisperer (BGA2801)", "normal")], 12.6)
caption(ax_h, 57, 90, 487, "C)", [("Attack to the", "normal"), (" protected", "italic"),
                                  (" SIMD using HackMuMCU (AD8000)", "normal")], 11.6)
caption(ax_h, 57, 90, 655, "D)", [("Attack to the", "normal"), (" protected", "italic"),
                                  (" SIMD using ChipWhisperer (BGA2801)", "normal")], 11.5)
caption(ax_h, 55, 80, 817, "E)", [("SCA to the unprotected  SIMD using HackMuMCU (AD8000) using averaging", "italic")],
        12.8, "italic")
caption(ax_h, 55, 80, 977, "F)", [("SCA to the unprotected SIMD using ChipWhisperer (BGA2801) using averaging", "italic")],
        12.8, "italic")
caption(ax_h, 55, 80, 1130, "G)", [("SCA to the", "normal"), (" protected", "italic"),
                                   ("  SIMD using HackMuMCU (AD8000) using averaging", "normal")], 12.1)
caption(ax_h, 57, 64, 1150, "*", [("we  continued to 4000 averaged traces to see the ultimate strength of the protection", "italic")],
        10.9)
caption(ax_h, 55, 90, 1300, "H)", [("SCA to the", "normal"), (" protected", "italic"),
                                   (" SIMD using ChipWhisperer (BGA2801) using averaging", "normal")], 12.3)


# dashed frame and separators
def hline(y, lw, dash, color="black"):
    fig.add_artist(Line2D([fx(13), fx(700)], [fy(y), fy(y)], transform=fig.transFigure,
                          color=color, lw=lw, linestyle=(0, dash)))


def vline(x, lw, dash):
    fig.add_artist(Line2D([fx(x), fx(x)], [fy(3), fy(1308)], transform=fig.transFigure,
                          color="black", lw=lw, linestyle=(0, dash)))


frame_dash = (2.2, 1.2)
hline(3, 2.0, frame_dash)
hline(1308, 2.0, frame_dash)
vline(13, 2.0, frame_dash)
vline(700, 2.0, frame_dash)
hline(171, 0.7, (3, 2), "#333333")
hline(337, 0.7, (3, 2), "#333333")
hline(501, 0.7, (3, 2), "#333333")
hline(668, 1.2, (3, 1.5))
hline(826, 1.2, (3, 1.5))
hline(990, 0.7, (3, 2), "#333333")

fig.savefig("out.png", dpi=100)
